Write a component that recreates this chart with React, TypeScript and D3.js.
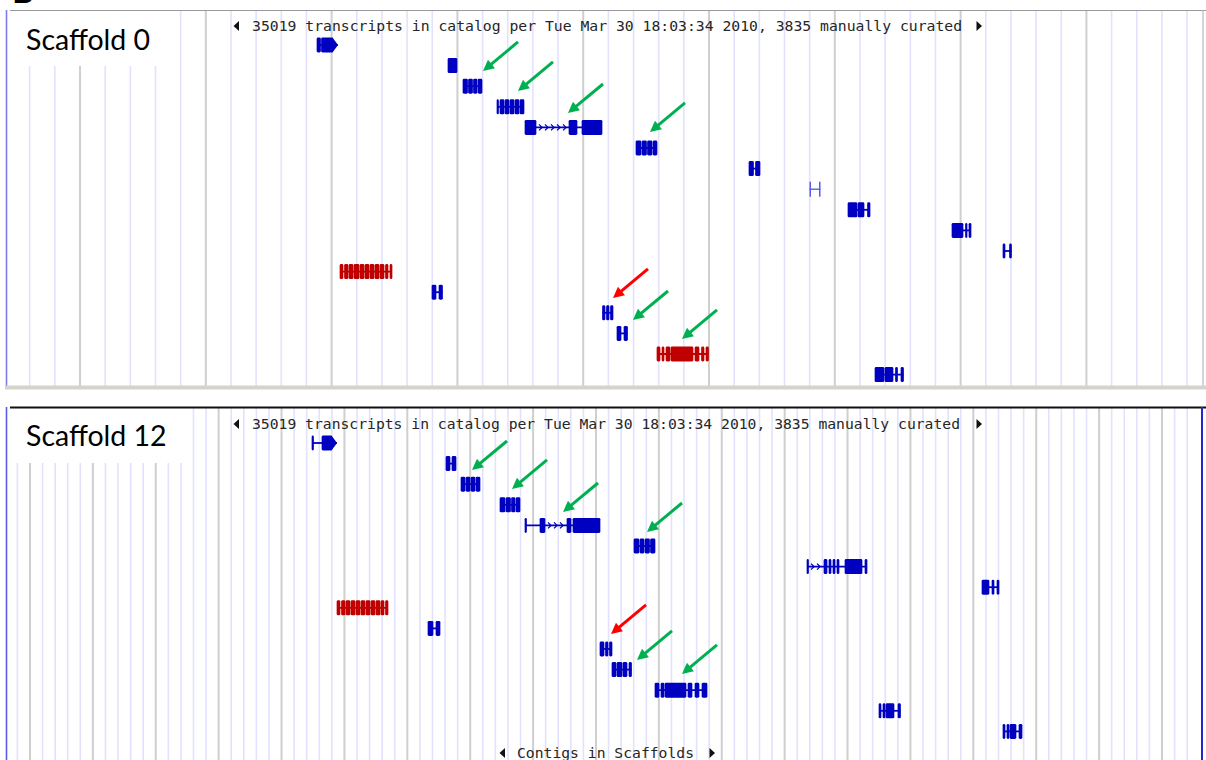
import React, { useEffect, useRef } from 'react';
import * as d3 from 'd3';

const W = 1206;
const H = 760;

// text
const headerText = '35019 transcripts in catalog per Tue Mar 30 18:03:34 2010, 3835 manually curated';
const footerText = 'Contigs in Scaffolds';
const panelLabels = ['Scaffold 0', 'Scaffold 12'];

type Gene = { row: number; exons: [number, number][]; color?: string; tip?: number; chevrons?: [number, number][] };
type Marker = { x: number; row: number; color: string };

// transcripts on scaffold 0 (positions along the browser coordinate, row = track lane)
const scaffold0Genes: Gene[] = [
  { row: 0, exons: [[317, 320.5], [321.5, 331]], tip: 338 },
  { row: 1, exons: [[448, 457]] },
  { row: 2, exons: [[463, 467.5], [468.5, 472.5], [473.5, 477], [478, 482]] },
  { row: 3, exons: [[497, 498.5], [500, 504], [505, 509], [510, 514], [515, 519], [520, 524]] },
  { row: 4, exons: [[525, 536], [569, 577], [582, 602]], chevrons: [[538, 567]] },
  { row: 5, exons: [[636, 641], [642, 646.5], [647.5, 652], [653, 657]] },
  { row: 6, exons: [[749, 753.5], [755.5, 760]] },
  { row: 7, exons: [[809.5, 811], [819, 820.5]], color: 'pale' },
  { row: 8, exons: [[848, 857], [858, 864], [867.5, 870]] },
  { row: 9, exons: [[952, 963], [965.5, 967], [969, 971]] },
  { row: 10, exons: [[1003, 1005], [1009.5, 1011.5]] },
  { row: 11, exons: [[340, 343], [344.5, 348], [349, 353], [354, 359], [360, 364], [365, 369], [370, 374], [375, 379], [380, 384], [385.5, 388], [390, 392]], color: 'red' },
  { row: 12, exons: [[432, 436], [439, 442.5]] },
  { row: 13, exons: [[602.5, 605], [606.5, 609], [610.5, 613]] },
  { row: 14, exons: [[617, 621], [624, 627.5]] },
  { row: 15, exons: [[657, 660], [662, 664], [666, 670], [671, 693], [695, 699], [701.5, 704], [706, 708.5]], color: 'red' },
  { row: 16, exons: [[875, 884], [885, 893], [895.5, 897.5], [901, 903.5]] },
];

const scaffold12Genes: Gene[] = [
  { row: 0, exons: [[312, 313.5], [322, 330]], tip: 337 },
  { row: 1, exons: [[446, 450], [452, 456]] },
  { row: 2, exons: [[461, 465], [466, 470], [471, 475], [476, 480]] },
  { row: 3, exons: [[500, 505], [506, 510.5], [511.5, 515], [516, 520]] },
  { row: 4, exons: [[525, 526.5], [540, 545], [567, 571], [573, 600]], chevrons: [[547, 565]] },
  { row: 5, exons: [[634, 639], [640, 644], [645, 649.5], [650.5, 655]] },
  { row: 6, exons: [[807, 808.5], [824, 827], [829, 831], [833, 835], [837, 839], [845, 862], [865, 867]], chevrons: [[810, 822]] },
  { row: 7, exons: [[982, 989], [992, 994], [997, 999]] },
  { row: 8, exons: [[337, 340], [341.5, 345], [346, 350], [351, 355], [356, 360], [361, 365], [366, 370], [371, 375], [376, 380], [381, 384], [385.5, 388]], color: 'red' },
  { row: 9, exons: [[428, 433], [436, 440]] },
  { row: 10, exons: [[600, 604], [605.5, 608], [609.5, 612]] },
  { row: 11, exons: [[612, 616], [617, 622], [623, 627], [629, 631.5]] },
  { row: 12, exons: [[655, 659], [661, 664], [665, 686], [688, 692], [695, 699], [702, 707]] },
  { row: 13, exons: [[879, 881], [883, 885], [886, 894], [898, 900.5]] },
  { row: 14, exons: [[1003, 1005], [1007, 1009], [1010, 1016], [1019, 1022]] },
];

// annotation arrows: head position (coordinate, fractional row)
const scaffold0Arrows: Marker[] = [
  { x: 483, row: 1.26, color: 'green' },
  { x: 518, row: 2.23, color: 'green' },
  { x: 568, row: 3.3, color: 'green' },
  { x: 650, row: 4.22, color: 'green' },
  { x: 613, row: 12.28, color: 'red' },
  { x: 633, row: 13.35, color: 'green' },
  { x: 682, row: 14.27, color: 'green' },
];

const scaffold12Arrows: Marker[] = [
  { x: 472, row: 1.31, color: 'green' },
  { x: 512, row: 2.23, color: 'green' },
  { x: 563, row: 3.35, color: 'green' },
  { x: 647, row: 4.32, color: 'green' },
  { x: 611, row: 9.27, color: 'red' },
  { x: 637, row: 10.53, color: 'green' },
  { x: 682, row: 11.21, color: 'green' },
];

const fills: Record<string, string> = { blue: '#0000c0', red: '#c00000', pale: '#5a5af0' };
const arrowFills: Record<string, string> = { green: '#00b050', red: '#ff0000' };

const panels = [
  {
    label: panelLabels[0], genes: scaffold0Genes, arrows: scaffold0Arrows,
    top: 10, bottom: 387, row0: 45, step: 20.6,
    gridStart: 29.7, gridStep: 25.16, majorAt: 2,
    boxW: 168, boxH: 56, labelY: 50, headerY: 31, headerTextW: 710,
    footer: false,
  },
  {
    label: panelLabels[1], genes: scaffold12Genes, arrows: scaffold12Arrows,
    top: 408, bottom: 760, row0: 443, step: 20.6,
    gridStart: 17.4, gridStep: 12.578, majorAt: 1,
    boxW: 176, boxH: 55, labelY: 446, headerY: 429, headerTextW: 708,
    footer: true,
  },
];

const App = () => {
  const ref = useRef<SVGSVGElement>(null);

  useEffect(() => {
    const svg = d3.select(ref.current);
    svg.selectAll('*').remove();

    const x = d3.scaleLinear().domain([0, W]).range([0, W]);

    const defs = svg.append('defs');
    defs.append('filter').attr('id', 'soft')
      .append('feGaussianBlur').attr('stdDeviation', 0.55);

    svg.append('rect').attr('width', W).attr('height', H).attr('fill', '#fff');

    // clipped figure letter at the top-left
    svg.append('text').attr('x', 12).attr('y', 3)
      .attr('font-family', 'Lato, "Open Sans", sans-serif').attr('font-weight', 700)
      .attr('font-size', 34).attr('fill', '#000').text('B');

    panels.forEach((p, pi) => {
      const g = svg.append('g');
      const y = d3.scaleLinear().domain([0, 1]).range([p.row0, p.row0 + p.step]);

      // vertical gridlines
      const grid = d3.range(p.gridStart, 1196, p.gridStep);
      g.selectAll('line.grid').data(grid).enter().append('line')
        .attr('x1', d => x(d)).attr('x2', d => x(d))
        .attr('y1', p.top).attr('y2', p.bottom)
        .attr('stroke', (d, i) => (i % 5 === p.majorAt ? '#cfcfcf' : '#e2e2ff'))
        .attr('stroke-width', (d, i) => (i % 5 === p.majorAt ? 2 : 1.6));

      // label box
      g.append('rect').attr('x', 7).attr('y', p.top).attr('width', p.boxW).attr('height', p.boxH).attr('fill', '#fff');
      g.append('text').attr('x', 26).attr('y', p.labelY)
        .attr('font-family', 'Lato, "Open Sans", sans-serif').attr('font-size', 28.5)
        .attr('fill', '#000').text(p.label);

      // borders
      if (pi === 0) {
        g.append('line').attr('x1', 10).attr('x2', 1206).attr('y1', 10.5).attr('y2', 10.5).attr('stroke', '#9a9a9a').attr('stroke-width', 1);
        g.append('line').attr('x1', 6.5).attr('x2', 6.5).attr('y1', 10).attr('y2', 388).attr('stroke', '#7c7cec').attr('stroke-width', 1.6);
        g.append('line').attr('x1', 1203).attr('x2', 1203).attr('y1', 10).attr('y2', 388).attr('stroke', '#b8b8c8').attr('stroke-width', 1.2);
        g.append('rect').attr('x', 5).attr('y', 385.5).attr('width', 1201).attr('height', 4).attr('fill', '#d6d3cc');
      } else {
        g.append('line').attr('x1', 10).attr('x2', 1206).attr('y1', 407.5).attr('y2', 407.5).attr('stroke', '#111').attr('stroke-width', 2);
        g.append('line').attr('x1', 6.5).attr('x2', 6.5).attr('y1', 407).attr('y2', 760).attr('stroke', '#5a5ae6').attr('stroke-width', 1.6);
        g.append('line').attr('x1', 1202).attr('x2', 1202).attr('y1', 407).attr('y2', 760).attr('stroke', '#2626d0').attr('stroke-width', 2);
      }

      // header line with scroll triangles
      const caption = (txt: string, tx: number, ty: number, tw: number, lx: number, rx: number) => {
        g.append('text').attr('x', tx).attr('y', ty)
          .attr('font-family', '"DejaVu Sans Mono", "Liberation Mono", monospace')
          .attr('font-size', 14).attr('fill', '#262626')
          .attr('textLength', tw).attr('lengthAdjust', 'spacingAndGlyphs')
          .text(txt);
        const cy = ty - 5;
        g.append('path').attr('d', `M${lx},${cy} L${lx + 5.5},${cy - 5} L${lx + 5.5},${cy + 5} Z`).attr('fill', '#111');
        g.append('path').attr('d', `M${rx + 5.5},${cy} L${rx},${cy - 5} L${rx},${cy + 5} Z`).attr('fill', '#111');
      };
      caption(headerText, 252, p.headerY, p.headerTextW, 233.5, 976.5);
      if (p.footer) caption(footerText, 517, 758, 177, 499.5, 709.5);

      // transcripts
      const gg = g.append('g').attr('filter', 'url(#soft)');
      p.genes.forEach(gene => {
        const col = fills[gene.color || 'blue'];
        const pale = gene.color === 'pale';
        const pad = pale ? 0 : 0.35;
        const cy = y(gene.row);
        const first = gene.exons[0][0];
        const last = gene.tip ?? gene.exons[gene.exons.length - 1][1];
        gg.append('line').attr('x1', x(first)).attr('x2', x(last)).attr('y1', cy).attr('y2', cy)
          .attr('stroke', col).attr('stroke-width', pale ? 1.4 : 1.8);
        gg.selectAll(null).data(gene.exons).enter().append('rect')
          .attr('x', d => x(d[0]) - pad).attr('width', d => Math.max(1.2, x(d[1]) - x(d[0]) + 2 * pad))
          .attr('y', cy - 7.5).attr('height', 15)
          .attr('rx', pale ? 0 : 1.4)
          .attr('fill', col);
        if (gene.tip) {
          const e = gene.exons[gene.exons.length - 1][1];
          gg.append('path')
            .attr('d', `M${x(e) - 0.5},${cy - 7.5} L${x(e) + 1.5},${cy - 7.5} L${x(gene.tip)},${cy} L${x(e) + 1.5},${cy + 7.5} L${x(e) - 0.5},${cy + 7.5} Z`)
            .attr('fill', col);
        }
        (gene.chevrons || []).forEach(([a, b]) => {
          d3.range(a + 4, b, 6).forEach(cx => {
            gg.append('path').attr('d', `M${x(cx) - 3},${cy - 3} L${x(cx)},${cy} L${x(cx) - 3},${cy + 3}`)
              .attr('fill', 'none').attr('stroke', col).attr('stroke-width', 1.3);
          });
        });
      });

      // annotation arrows
      const dx = 35, dy = -29;
      const len = Math.hypot(dx, dy);
      const ux = dx / len, uy = dy / len;
      p.arrows.forEach(a => {
        const hx = x(a.x), hy = y(a.row);
        const col = arrowFills[a.color];
        const bx = hx + ux * 11, by = hy + uy * 11;
        g.append('line').attr('x1', bx - ux).attr('y1', by - uy).attr('x2', hx + dx).attr('y2', hy + dy)
          .attr('stroke', col).attr('stroke-width', 3);
        g.append('path')
          .attr('d', `M${hx},${hy} L${bx - uy * 5.5},${by + ux * 5.5} L${bx + uy * 5.5},${by - ux * 5.5} Z`)
          .attr('fill', col);
      });
    });
  }, []);

  return (
    <svg ref={ref} width={W} height={H}
      style={{ position: 'absolute', left: 0, top: 0, display: 'block' }} />
  );
};

export default App;
